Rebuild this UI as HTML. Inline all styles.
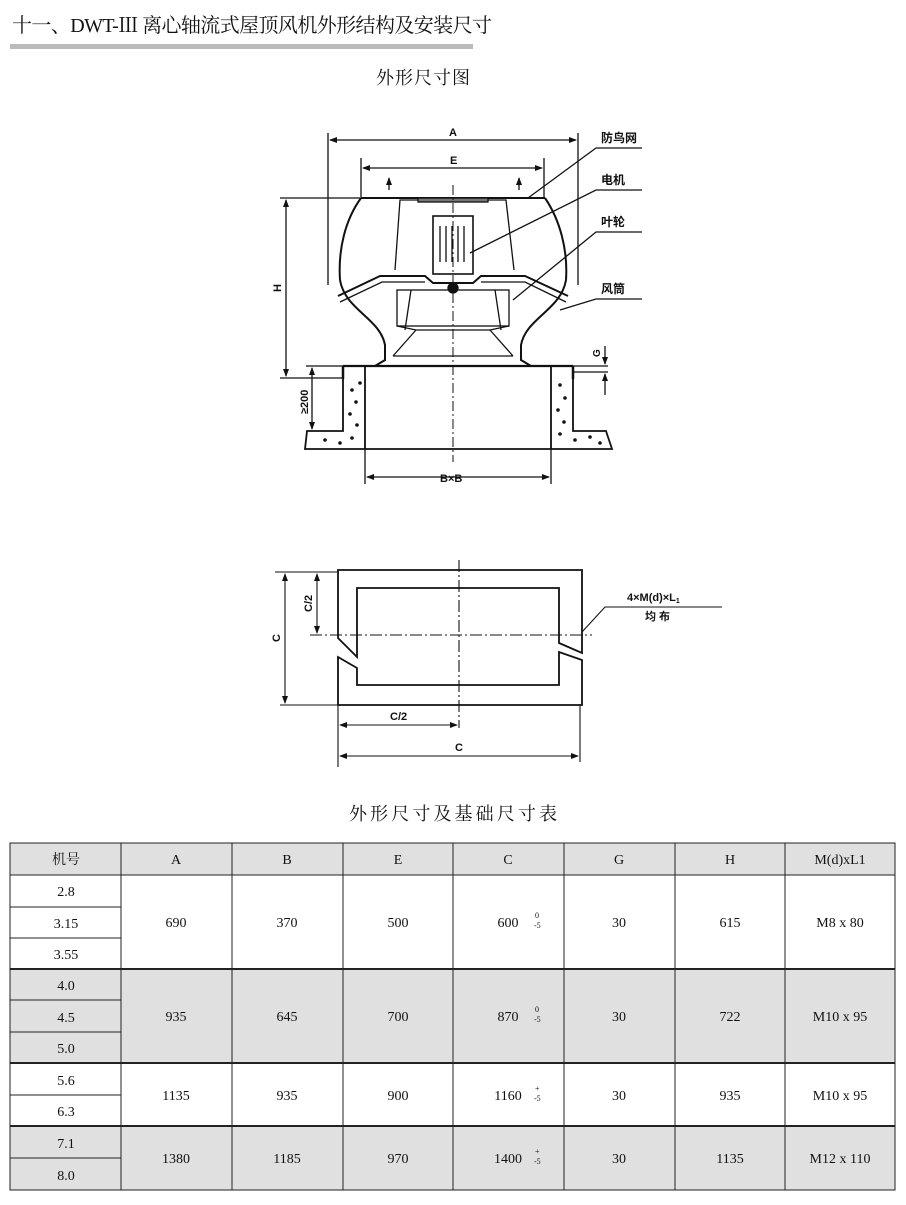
<!DOCTYPE html>
<html><head><meta charset="utf-8"><style>
html,body{margin:0;padding:0;background:#fff;width:906px;height:1205px;overflow:hidden}
svg{display:block}
.s{font-family:"Liberation Serif","Noto Serif CJK SC",serif;fill:#111}
.b{font-family:"Liberation Sans","Noto Sans CJK SC",sans-serif;font-weight:bold;fill:#111}
</style></head><body>
<svg width="906" height="1205" viewBox="0 0 906 1205" xmlns="http://www.w3.org/2000/svg">
<defs><marker id="ar" markerWidth="8" markerHeight="6" refX="7" refY="3" orient="auto-start-reverse" markerUnits="userSpaceOnUse"><path d="M0,0 L8,3 L0,6 z" fill="#111"/></marker></defs>
<text x="12" y="32" class="s" font-size="20" textLength="480">十一、DWT-Ⅲ 离心轴流式屋顶风机外形结构及安装尺寸</text>
<rect x="10" y="44" width="463" height="5" fill="#bbb"/>
<text x="376" y="84" class="s" font-size="18" textLength="94">外形尺寸图</text>

<g stroke="#111" fill="none" stroke-width="1.3">
<!-- A dim -->
<line x1="328" y1="133" x2="328" y2="285"/><line x1="578" y1="133" x2="578" y2="285"/>
<line x1="330" y1="140" x2="576" y2="140" marker-start="url(#ar)" marker-end="url(#ar)"/>
<!-- E dim -->
<line x1="361" y1="158" x2="361" y2="197"/><line x1="544" y1="158" x2="544" y2="197"/>
<line x1="363" y1="168" x2="542" y2="168" marker-start="url(#ar)" marker-end="url(#ar)"/>
<line x1="389" y1="190" x2="389" y2="178" marker-end="url(#ar)"/>
<line x1="519" y1="190" x2="519" y2="178" marker-end="url(#ar)"/>
<!-- H dim -->
<line x1="280" y1="198" x2="362" y2="198"/><line x1="280" y1="378" x2="343" y2="378"/>
<line x1="286" y1="200" x2="286" y2="376" marker-start="url(#ar)" marker-end="url(#ar)"/>
<!-- hood -->
<path d="M361,198 L545,198" stroke-width="2"/>
<path d="M361,198 C345,220 338,250 340,280 C345,310 380,318 385,345 L385,360 L375,366" stroke-width="2"/>
<path d="M545,198 C560,220 568,250 566,280 C561,310 526,318 521,345 L521,360 L531,366" stroke-width="2"/>
<path d="M418,200 L400,200 L395,270 M488,200 L506,200 L514,270"/>
<rect x="418" y="198" width="70" height="4" fill="#777"/>
<rect x="433" y="216" width="40" height="58" stroke-width="1.6"/>
<path d="M440,226v36 M446,226v36 M452,226v36 M458,226v36 M464,226v36" />
<path d="M338,296 L380,276 L425,276 L433,283 L473,283 L481,276 L525,276 L568,296" stroke-width="2"/>
<path d="M340,302 L382,282 L425,282 M481,282 L525,282 L566,302"/>
<rect x="397" y="290" width="112" height="36"/>
<path d="M411,290 L405,330 M495,290 L501,330"/>
<path d="M397,326 L416,330 L490,330 L509,326"/>
<path d="M416,330 L393,356 M490,330 L513,356 M393,356 L513,356"/>
<circle cx="453" cy="288" r="5" fill="#111"/>
<!-- flange and curb -->
<path d="M343,366 L573,366" stroke-width="2.2"/>
<path d="M343,366 L343,379 M573,366 L573,379" stroke-width="2.5"/>
<path d="M365,366 L365,449 M551,366 L551,449" stroke-width="1.8"/>
<path d="M343,379 L343,431 L307,431 L305,449 L612,449 L606,431 L573,431 L573,379" stroke-width="1.8"/>
<!-- center line -->
<line x1="453" y1="185" x2="453" y2="462" stroke-dasharray="10,3,2,3" stroke-width="1"/>
<!-- >=200 -->
<line x1="306" y1="366" x2="343" y2="366"/>
<line x1="312" y1="368" x2="312" y2="429" marker-start="url(#ar)" marker-end="url(#ar)"/>
<!-- G -->
<line x1="573" y1="366" x2="608" y2="366"/><line x1="573" y1="372" x2="608" y2="372"/>
<line x1="605" y1="346" x2="605" y2="364" marker-end="url(#ar)"/>
<line x1="605" y1="395" x2="605" y2="374" marker-end="url(#ar)"/>
<!-- BxB -->
<line x1="365" y1="449" x2="365" y2="484"/><line x1="551" y1="449" x2="551" y2="484"/>
<line x1="367" y1="477" x2="549" y2="477" marker-start="url(#ar)" marker-end="url(#ar)"/>
<!-- leaders -->
<path d="M528,198 L596,148 L642,148"/>
<path d="M470,253 L596,190 L642,190"/>
<path d="M513,300 L596,232 L642,232"/>
<path d="M560,310 L596,299 L642,299"/>
</g>
<g fill="#111">
<circle cx="352" cy="390" r="1.8"/><circle cx="356" cy="402" r="1.8"/><circle cx="350" cy="414" r="1.8"/><circle cx="357" cy="425" r="1.8"/><circle cx="352" cy="438" r="1.8"/><circle cx="340" cy="443" r="1.8"/><circle cx="325" cy="440" r="1.8"/><circle cx="360" cy="383" r="1.8"/>
<circle cx="560" cy="385" r="1.8"/><circle cx="565" cy="398" r="1.8"/><circle cx="558" cy="410" r="1.8"/><circle cx="564" cy="422" r="1.8"/><circle cx="560" cy="434" r="1.8"/><circle cx="575" cy="440" r="1.8"/><circle cx="590" cy="437" r="1.8"/><circle cx="600" cy="443" r="1.8"/>
</g>
<text x="449" y="136" class="b" font-size="11">A</text>
<text x="450" y="164" class="b" font-size="11">E</text>
<text x="281" y="292" class="b" font-size="11" transform="rotate(-90 281 292)">H</text>
<text x="308" y="414" class="b" font-size="11" transform="rotate(-90 308 414)">≥200</text>
<text x="600" y="357" class="b" font-size="10" transform="rotate(-90 600 357)">G</text>
<text x="440" y="482" class="b" font-size="11">B×B</text>
<text x="601" y="142" class="b" font-size="12">防鸟网</text>
<text x="601" y="184" class="b" font-size="12">电机</text>
<text x="601" y="226" class="b" font-size="12">叶轮</text>
<text x="601" y="293" class="b" font-size="12">风筒</text>

<!-- bottom diagram -->
<g stroke="#111" fill="none" stroke-width="1.8">
<path d="M338,570 L582,570 L582,653 L559,643 L559,588 L357,588 L357,657 L338,638 Z"/>
<path d="M338,657 L357,668 L357,685 L559,685 L559,652 L582,660 L582,705 L338,705 Z"/>
</g>
<g stroke="#111" fill="none" stroke-width="1.1">
<line x1="459" y1="560" x2="459" y2="728" stroke-dasharray="12,3,2,3"/>
<line x1="310" y1="635" x2="592" y2="635" stroke-dasharray="12,3,2,3"/>
<line x1="275" y1="572" x2="338" y2="572"/><line x1="280" y1="705" x2="338" y2="705"/>
<line x1="285" y1="574" x2="285" y2="703" marker-start="url(#ar)" marker-end="url(#ar)"/>
<line x1="317" y1="574" x2="317" y2="633" marker-start="url(#ar)" marker-end="url(#ar)"/>
<line x1="338" y1="705" x2="338" y2="767"/><line x1="580" y1="705" x2="580" y2="762"/>
<line x1="340" y1="725" x2="457" y2="725" marker-start="url(#ar)" marker-end="url(#ar)"/>
<line x1="340" y1="756" x2="578" y2="756" marker-start="url(#ar)" marker-end="url(#ar)"/>
<path d="M582,632 L605,607 L722,607"/>
</g>
<text x="280" y="642" class="b" font-size="11" transform="rotate(-90 280 642)">C</text>
<text x="312" y="612" class="b" font-size="11" transform="rotate(-90 312 612)">C/2</text>
<text x="390" y="720" class="b" font-size="11">C/2</text>
<text x="455" y="751" class="b" font-size="11">C</text>
<text x="627" y="601" class="b" font-size="11">4×M(d)×L<tspan font-size="7" dy="2">1</tspan></text>
<text x="645" y="620" class="b" font-size="11">均  布</text>

<text x="349" y="820" class="s" font-size="18" textLength="208">外形尺寸及基础尺寸表</text>

<!-- table -->
<rect x="10" y="843" width="885" height="32" fill="#e0e0e0"/>
<rect x="10" y="969" width="885" height="94" fill="#e0e0e0"/>
<rect x="10" y="1126" width="885" height="64" fill="#e0e0e0"/>
<rect x="10" y="875" width="111" height="94" fill="#fff"/>
<rect x="10" y="1063" width="111" height="63" fill="#fff"/>
<g stroke="#222" stroke-width="1">
<rect x="10" y="843" width="885" height="347" fill="none"/>
<line x1="10" y1="875" x2="895" y2="875"/>
<line x1="10" y1="969" x2="895" y2="969" stroke-width="2"/>
<line x1="10" y1="1063" x2="895" y2="1063" stroke-width="2"/>
<line x1="10" y1="1126" x2="895" y2="1126" stroke-width="2"/>
<line x1="10" y1="907" x2="121" y2="907"/><line x1="10" y1="938" x2="121" y2="938"/>
<line x1="10" y1="1000" x2="121" y2="1000"/><line x1="10" y1="1032" x2="121" y2="1032"/>
<line x1="10" y1="1095" x2="121" y2="1095"/><line x1="10" y1="1158" x2="121" y2="1158"/>
<line x1="121" y1="843" x2="121" y2="1190"/><line x1="232" y1="843" x2="232" y2="1190"/>
<line x1="343" y1="843" x2="343" y2="1190"/><line x1="453" y1="843" x2="453" y2="1190"/>
<line x1="564" y1="843" x2="564" y2="1190"/><line x1="675" y1="843" x2="675" y2="1190"/>
<line x1="785" y1="843" x2="785" y2="1190"/>
</g>
<g class="s" font-size="14" text-anchor="middle">
<text x="66" y="864">机号</text><text x="176" y="864">A</text><text x="287" y="864">B</text><text x="398" y="864">E</text><text x="508" y="864">C</text><text x="619" y="864">G</text><text x="730" y="864">H</text><text x="840" y="864">M(d)xL1</text>
<text x="66" y="896">2.8</text><text x="66" y="928">3.15</text><text x="66" y="959">3.55</text>
<text x="66" y="990">4.0</text><text x="66" y="1022">4.5</text><text x="66" y="1053">5.0</text>
<text x="66" y="1085">5.6</text><text x="66" y="1116">6.3</text>
<text x="66" y="1148">7.1</text><text x="66" y="1180">8.0</text>
<text x="176" y="927">690</text><text x="287" y="927">370</text><text x="398" y="927">500</text><text x="508" y="927">600</text><text x="619" y="927">30</text><text x="730" y="927">615</text><text x="840" y="927">M8 x 80</text>
<text x="176" y="1021">935</text><text x="287" y="1021">645</text><text x="398" y="1021">700</text><text x="508" y="1021">870</text><text x="619" y="1021">30</text><text x="730" y="1021">722</text><text x="840" y="1021">M10 x 95</text>
<text x="176" y="1100">1135</text><text x="287" y="1100">935</text><text x="398" y="1100">900</text><text x="508" y="1100">1160</text><text x="619" y="1100">30</text><text x="730" y="1100">935</text><text x="840" y="1100">M10 x 95</text>
<text x="176" y="1163">1380</text><text x="287" y="1163">1185</text><text x="398" y="1163">970</text><text x="508" y="1163">1400</text><text x="619" y="1163">30</text><text x="730" y="1163">1135</text><text x="840" y="1163">M12 x 110</text>
</g>
<g class="s" font-size="8">
<text x="535" y="918">0</text><text x="534" y="928">-5</text>
<text x="535" y="1012">0</text><text x="534" y="1022">-5</text>
<text x="535" y="1091">+</text><text x="534" y="1101">-5</text>
<text x="535" y="1154">+</text><text x="534" y="1164">-5</text>
</g>
</svg>
</body></html>
